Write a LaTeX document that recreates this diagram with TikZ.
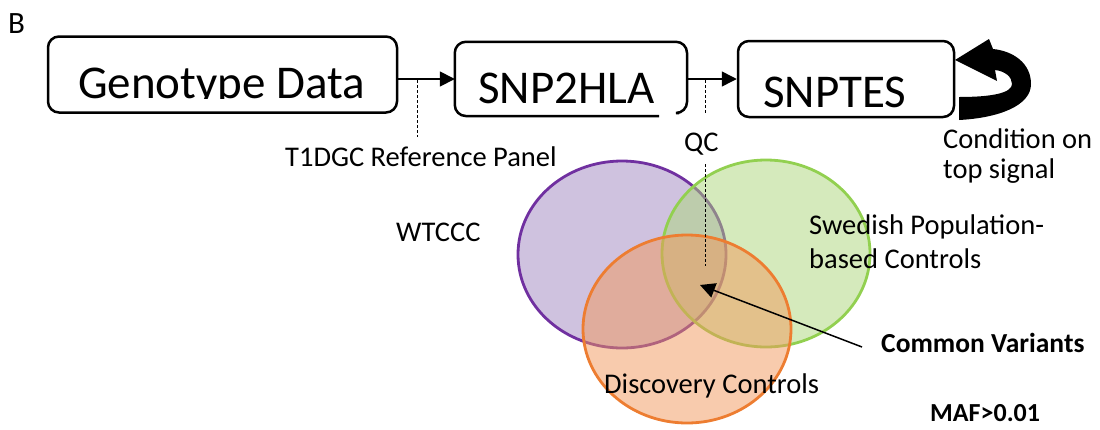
\documentclass[tikz,border=0pt]{standalone}
\usepackage{fontspec}
\setmainfont{Carlito}
\usetikzlibrary{arrows.meta,shapes.geometric}
\definecolor{purpline}{RGB}{112,48,160}
\definecolor{purpfill}{RGB}{160,133,192}
\definecolor{greenline}{RGB}{146,208,80}
\definecolor{greenfill}{RGB}{172,214,122}
\definecolor{orangeline}{RGB}{237,125,49}
\definecolor{orangefill}{RGB}{241,151,91}
\begin{document}
\begin{tikzpicture}[x=1pt,y=-1pt,
  boxline/.style={line width=2.5pt, black},
  flowbox/.style={draw, boxline, rounded corners=11pt, inner sep=0pt},
  bigtxt/.style={font=\fontsize{47}{56}\selectfont, inner sep=0pt, anchor=base west},
  lbl/.style={font=\fontsize{28.5}{34}\selectfont, inner sep=0pt, anchor=base west},
  boldlbl/.style={font=\fontsize{27.5}{33}\selectfont\bfseries, inner sep=0pt, anchor=base west},
  arr/.style={line width=1.5pt, -{Triangle[length=15pt,width=15pt]}},
  dashline/.style={line width=1pt, dash pattern=on 3pt off 2pt},
  venn/.style={ellipse, line width=2.8pt, fill opacity=0.5, inner sep=0pt,
    minimum width=208pt, minimum height=187pt}
]
\useasboundingbox (0,0) rectangle (1100,429);

% panel letter
\node[inner sep=0pt, anchor=base west, font=\fontsize{31}{37}\selectfont] (B) at (8,33) {B};

% Venn diagram
\node[venn, draw=purpline, fill=purpfill] (wt) at (622,254.5) {};
\node[venn, draw=greenline, fill=greenfill] (sw) at (766,253.5) {};
\node[venn, draw=orangeline, fill=orangefill, minimum height=188pt] (dc) at (687,329) {};

% flow boxes
\node[flowbox, minimum width=349pt, minimum height=76pt] (geno) at (222.5,74.5) {};
\begin{scope}
  \clip (40,30) rectangle (400,98);
  \node[bigtxt] (genotxt) at (78,98) {Genotype Data};
\end{scope}

\node[inner sep=0pt, minimum width=232pt, minimum height=74pt] (snp) at (571,79) {};
\draw[boxline, rounded corners=11pt] (659,116) -| (snp.north west) -| (687,113) -- (679,113);
\node[bigtxt] (snptxt) at (478,103) {SNP2HLA};

\node[flowbox, minimum width=216pt, minimum height=76pt] (snptes) at (846,79) {};
\node[bigtxt] (snptestxt) at (763,107) {SNPTES};

% connectors
\draw[arr] (geno.east |- snp.west) -- (snp.west);
\draw[arr] (snp.east) -- (snptes.west);

% dashed leaders
\coordinate (t1a) at (417,80);
\coordinate (t1b) at (417,137);
\draw[dashline] (t1a) -- (t1b);
\coordinate (qca) at (705,80);
\coordinate (qcb) at (705,113);
\draw[dashline] (qca) -- (qcb);
\coordinate (qcc) at (705,164);
\coordinate (qcd) at (705,266);
\draw[dashline] (qcc) -- (qcd);

% curved "condition" arrow
\fill[black] (959,120) .. controls (998,118) and (1031,106) .. (1031,84)
  .. controls (1031,63) and (1013,51) .. (993,49)
  -- (989,39) -- (955,60) -- (997,81) -- (995,70)
  .. controls (1005,71) and (1012,77) .. (1012,84)
  .. controls (1012,93) and (992,97) .. (959,97) -- cycle;

% labels
\node[lbl] (t1) at (285,166) {T1DGC Reference Panel};
\node[lbl] (qc) at (684,151) {QC};
\node[lbl] (cond1) at (943,148) {Condition on};
\node[lbl] (cond2) at (943,178) {top signal};
\node[lbl] (wtl) at (396,241) {WTCCC};
\node[lbl] (swl1) at (809,234) {Swedish Population-};
\node[lbl] (swl2) at (809,268) {based Controls};
\node[lbl] (dcl) at (604,393) {Discovery Controls};
\node[boldlbl] (cv) at (881,352) {Common Variants};
\node[boldlbl, font=\fontsize{26}{31}\selectfont\bfseries] (maf) at (930,421) {MAF>0.01};

% common variants arrow
\coordinate (cvtail) at (862,347);
\coordinate (cvtip) at (700,285);
\draw[arr] (cvtail) -- (cvtip);
\end{tikzpicture}
\end{document}
